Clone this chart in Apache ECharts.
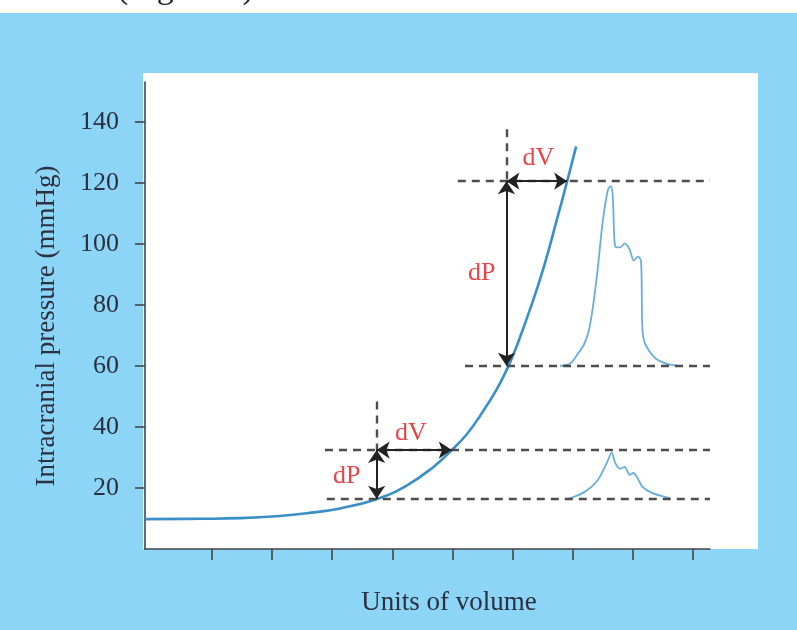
<!DOCTYPE html>
<html>
<head>
<meta charset="utf-8">
<script src="https://cdn.jsdelivr.net/npm/echarts@6/dist/echarts.min.js"></script>
<style>html,body{margin:0;padding:0;background:#fff}#c{width:797px;height:630px}</style>
</head>
<body>
<div id="c"></div>
<script>
// ---- data ----
const yTicks = [20, 40, 60, 80, 100, 120, 140];
const xTicks = [1, 2, 3, 4, 5, 6, 7, 8, 9];

// pressure-volume curve
const curveVolume   = [-0.115, 0.80, 1.47, 2.13, 2.58, 3.13, 3.75, 4.24, 4.68, 4.99, 5.24, 5.46, 5.74, 5.93, 6.09, 6.29, 6.51, 6.74, 6.91, 7.06];
const curvePressure = [9.8, 9.9, 10.1, 10.8, 11.7, 13.3, 16.4, 20.8, 26.8, 32.4, 37.6, 43.6, 52.4, 59.8, 67.5, 78.4, 91.6, 108, 120.5, 131.9];

// ICP pulse waveform at high pressure
const highPulseVolume   = [6.79, 6.96, 7.09, 7.19, 7.27, 7.34, 7.42, 7.50, 7.59, 7.64, 7.67, 7.71, 7.79, 7.87, 7.95, 8.02, 8.09, 8.14, 8.16, 8.20, 8.37, 8.52, 8.65, 8.78];
const highPulsePressure = [60, 60.8, 64.0, 67.0, 71.5, 79.5, 92.0, 107, 117.8, 118.9, 115.5, 99.1, 98.8, 100.1, 98.1, 94.5, 95.8, 94.2, 72.9, 67.6, 62.6, 61.0, 60.3, 60];

// ICP pulse waveform at low pressure
const lowPulseVolume   = [6.91, 7.21, 7.42, 7.57, 7.65, 7.71, 7.79, 7.87, 7.95, 8.01, 8.07, 8.16, 8.32, 8.62];
const lowPulsePressure = [16.3, 18.8, 22.6, 28.2, 31.6, 28.2, 26.3, 26.9, 24.3, 24.9, 23.7, 20.4, 18.4, 16.7];

// horizontal dashed reference levels
const levelPressure = [16.5, 32.4, 60, 120.5];
const levelStart    = [2.91, 2.88, 5.21, 5.09];
const levelEnd      = [9.287, 9.287, 9.287, 9.287];

// vertical dashed markers and arrows
const markerVolume   = [3.74, 5.90];
const markerTop      = [48.3, 137.5];
const dPFrom         = [16.5, 60];
const dPTo           = [32.4, 120.5];
const dVTo           = [4.99, 6.91];

// annotation labels
const noteText     = ['dP', 'dV', 'dP', 'dV'];
const noteVolume   = [3.24, 4.31, 5.49, 6.43];
const notePressure = [23.7, 38.0, 90.5, 128.2];

// ---- chart ----
const chart = echarts.init(document.getElementById('c'), null, {renderer: 'canvas'});
const serif = '"Liberation Serif", "Times New Roman", serif';
const textCol = '#2b2f3f';

const zip = (a, b) => a.map((v, i) => [v, b[i]]);

const dashedData = levelPressure.map((p, i) => [{coord: [levelStart[i], p]}, {coord: [levelEnd[i], p]}])
  .concat(markerVolume.map((v, i) => [{coord: [v, markerTop[i]]}, {coord: [v, dPTo[i]]}]));

const arrowData = markerVolume.map((v, i) => [{coord: [v, dPTo[i]]}, {coord: [v, dPFrom[i]]}])
  .concat(markerVolume.map((v, i) => [{coord: [v, dPTo[i]]}, {coord: [dVTo[i], dPTo[i]]}]));

const option = {
  animation: false,
  backgroundColor: '#ffffff',
  graphic: {
    elements: [
      {type: 'rect', z: -20, shape: {x: 0, y: 13, width: 797, height: 617}, style: {fill: '#8cd5f6'}},
      {type: 'rect', z: -19, shape: {x: 143, y: 73, width: 615, height: 476}, style: {fill: '#ffffff'}},
      {type: 'text', z: -18, x: 117, y: 6, style: {text: '(Figure 1)', font: '34px ' + serif, fill: '#222', textAlign: 'left', textVerticalAlign: 'bottom'}},
      {type: 'text', x: 47, y: 326, rotation: Math.PI / 2,
        style: {text: 'Intracranial pressure (mmHg)', font: '27px ' + serif, fill: textCol, textAlign: 'center', textVerticalAlign: 'middle'}},
      {type: 'text', x: 449, y: 603,
        style: {text: 'Units of volume', font: '27px ' + serif, fill: textCol, textAlign: 'center', textVerticalAlign: 'middle'}}
    ]
  },
  grid: {left: 145, right: 87, top: 82, bottom: 81, containLabel: false},
  xAxis: {
    type: 'value', min: -0.115, max: 9.287,
    splitLine: {show: false},
    axisLine: {show: true, onZero: false, lineStyle: {color: '#444', width: 1.6}},
    axisTick: {show: true, length: 11, customValues: xTicks, lineStyle: {color: '#444', width: 1.6}},
    axisLabel: {show: false}
  },
  yAxis: {
    type: 'value', min: 0, max: 153,
    splitLine: {show: false},
    axisLine: {show: true, onZero: false, lineStyle: {color: '#444', width: 1.6}},
    axisTick: {show: true, length: 10, customValues: yTicks, lineStyle: {color: '#444', width: 1.6}},
    axisLabel: {show: true, customValues: yTicks, margin: 26, fontFamily: serif, fontSize: 26, color: textCol}
  },
  series: [
    {
      type: 'line', name: 'guides', data: [], silent: true,
      markLine: {
        silent: true, symbol: ['none', 'none'], label: {show: false},
        lineStyle: {color: '#4d4d4d', width: 2.4, type: [8, 6]},
        emphasis: {disabled: true},
        data: dashedData
      }
    },
    {
      type: 'line', name: 'arrows', data: [], silent: true,
      markLine: {
        silent: true, symbol: ['arrow', 'arrow'], symbolSize: 13, label: {show: false},
        lineStyle: {color: '#222', width: 2, type: 'solid'},
        emphasis: {disabled: true},
        data: arrowData
      }
    },
    {
      type: 'line', name: 'curve', data: zip(curveVolume, curvePressure), showSymbol: false,
      smooth: 0.45,
      lineStyle: {color: '#3a8fc9', width: 2.6}, z: 4
    },
    {
      type: 'line', name: 'highPulse', data: zip(highPulseVolume, highPulsePressure), showSymbol: false, smooth: 0.3,
      lineStyle: {color: '#6aaedb', width: 1.8}, z: 3
    },
    {
      type: 'line', name: 'lowPulse', data: zip(lowPulseVolume, lowPulsePressure), showSymbol: false, smooth: 0.3,
      lineStyle: {color: '#6aaedb', width: 1.8}, z: 3
    },
    {
      type: 'scatter', name: 'notes', symbolSize: 1, itemStyle: {color: 'rgba(0,0,0,0)'}, silent: true, z: 6,
      data: noteText.map((t, i) => ({name: t, value: [noteVolume[i], notePressure[i]]})),
      label: {show: true, position: 'inside', formatter: p => p.name, fontFamily: serif, fontSize: 26, color: '#e0161b'}
    }
  ]
};
chart.setOption(option);
</script>
</body>
</html>
